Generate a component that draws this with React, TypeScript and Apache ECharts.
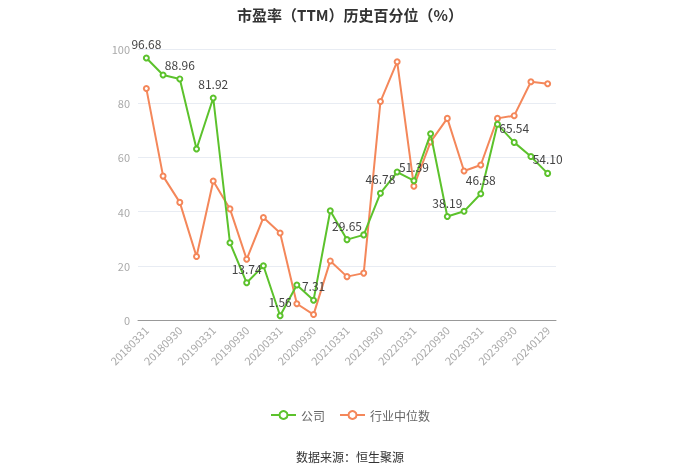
import React, { useEffect, useRef } from "react";
import * as echarts from "echarts";

const categories = [
  "20180331", "20180630", "20180930", "20181231",
  "20190331", "20190630", "20190930", "20191231",
  "20200331", "20200630", "20200930", "20201231",
  "20210331", "20210630", "20210930", "20211231",
  "20220331", "20220630", "20220930", "20221231",
  "20230331", "20230630", "20230930", "20231231",
  "20240129",
];

const companyValues = [
  96.68, 90.4, 88.96, 63.1, 81.92, 28.5, 13.74, 20.0, 1.56, 12.9, 7.31, 40.3,
  29.65, 31.4, 46.78, 54.6, 51.39, 68.7, 38.19, 40.1, 46.58, 72.2, 65.54, 60.3,
  54.1,
];

const industryValues = [
  85.4, 53.1, 43.4, 23.4, 51.3, 41.0, 22.4, 37.8, 32.1, 6.0, 2.0, 21.8, 16.0,
  17.3, 80.6, 95.3, 49.4, 65.7, 74.4, 55.0, 57.2, 74.4, 75.4, 87.9, 87.2,
];

const seriesNames = ["公司", "行业中位数"];
const titleText = "市盈率（TTM）历史百分位（%）";
const sourceText = "数据来源：恒生聚源";

const GREEN = "#5cc22c";
const ORANGE = "#f4875a";
const FONT = "'Noto Sans CJK SC', 'Noto Sans', sans-serif";

export default function App() {
  const ref = useRef<HTMLDivElement>(null);
  useEffect(() => {
    if (!ref.current) return;
    const chart = echarts.init(ref.current, undefined, { renderer: "svg" });
    chart.setOption({
      animation: false,
      textStyle: { fontFamily: FONT },
      title: {
        text: titleText,
        left: "center",
        top: 2,
        textStyle: { fontSize: 15, fontWeight: "bold", color: "#333", fontFamily: FONT },
      },
      grid: { left: 138, right: 144, top: 49, bottom: 153, containLabel: false },
      legend: {
        data: seriesNames,
        bottom: 47,
        left: "center",
        itemWidth: 25,
        itemHeight: 10,
        itemGap: 14,
        textStyle: { color: "#666", fontSize: 12, fontFamily: FONT },
      },
      graphic: [
        {
          type: "text",
          left: "center",
          top: 450,
          style: { text: sourceText, fill: "#333", fontSize: 12, fontFamily: FONT },
        },
      ],
      xAxis: {
        type: "category",
        data: categories,
        boundaryGap: true,
        axisLine: { lineStyle: { color: "#999" } },
        axisTick: { alignWithLabel: true, interval: 1, lineStyle: { color: "#999" } },
        axisLabel: { interval: 1, rotate: 45, color: "#aaa", fontSize: 11, fontFamily: FONT },
      },
      yAxis: {
        type: "value",
        min: 0,
        max: 100,
        interval: 20,
        axisLine: { show: false },
        axisTick: { show: false },
        axisLabel: { color: "#aaa", fontSize: 11, fontFamily: FONT },
        splitLine: { lineStyle: { color: "#e8ecf3" } },
      },
      series: [
        {
          name: seriesNames[0],
          type: "line",
          data: companyValues,
          symbol: "emptyCircle",
          symbolSize: 5,
          z: 3,
          itemStyle: { color: GREEN },
          lineStyle: { color: GREEN, width: 2 },
          label: {
            show: true,
            position: "top",
            color: "#444",
            fontSize: 12,
            fontFamily: FONT,
            formatter: (p: any) => (p.dataIndex % 2 === 0 ? p.value.toFixed(2) : ""),
          },
        },
        {
          name: seriesNames[1],
          type: "line",
          data: industryValues,
          symbol: "emptyCircle",
          symbolSize: 5,
          z: 2,
          itemStyle: { color: ORANGE },
          lineStyle: { color: ORANGE, width: 2 },
        },
      ],
    });
    return () => chart.dispose();
  }, []);
  return (
    <div
      ref={ref}
      style={{ position: "fixed", left: 0, top: 0, width: 700, height: 473 }}
    />
  );
}
